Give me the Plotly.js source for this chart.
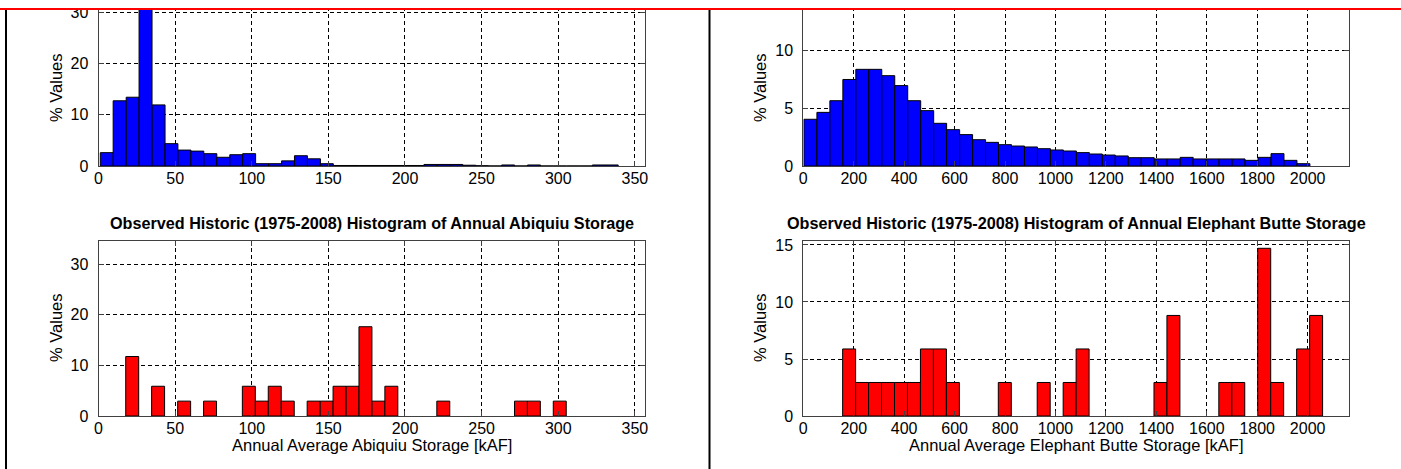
<!DOCTYPE html>
<html>
<head>
<meta charset="utf-8">
<script src="https://cdn.plot.ly/plotly-3.0.1.min.js"></script>
<style>
  html, body { margin: 0; padding: 0; background: #fff; }
  #chart { width: 1401px; height: 469px; }
</style>
</head>
<body>
<div id="chart"></div>
<script>
// ---- Simulated Abiquiu storage histogram (% of values per bin, kAF) ----
const abqSimBinWidth = 8.45;
const abqSimCenters = [5.4, 13.8, 22.3, 30.7, 39.2, 47.6, 56.1, 64.5, 73.0, 81.4,
  89.9, 98.3, 106.8, 115.2, 123.7, 132.1, 140.6, 149.0, 157.5, 165.9,
  174.4, 182.8, 191.3, 199.7, 208.2, 216.6, 225.1, 233.5, 242.0, 250.4,
  258.9, 267.3, 275.8, 284.2, 292.7, 301.1, 309.6, 318.0, 326.5, 334.9];
const abqSimPct = [2.6, 12.7, 13.4, 31.6, 11.9, 4.35, 3.1, 2.9, 2.4, 1.7,
  2.2, 2.4, 0.45, 0.45, 1.0, 2.0, 1.4, 0.45, 0.1, 0.1,
  0.1, 0.1, 0.1, 0.1, 0.1, 0.3, 0.3, 0.3, 0.15, 0.05,
  0, 0.2, 0, 0.2, 0, 0, 0, 0, 0.2, 0.2];

// ---- Simulated Elephant Butte storage histogram ----
const ebSimBinWidth = 51.45;
const ebSimCenters = [28.2, 79.7, 131.1, 182.6, 234.0, 285.5, 336.9, 388.4, 439.8, 491.3,
  542.7, 594.2, 645.6, 697.1, 748.5, 800.0, 851.4, 902.9, 954.3, 1005.8,
  1057.2, 1108.7, 1160.1, 1211.6, 1263.0, 1314.5, 1365.9, 1417.4, 1468.8, 1520.3,
  1571.7, 1623.2, 1674.6, 1726.1, 1777.5, 1829.0, 1880.4, 1931.9, 1983.3];
const ebSimPct = [4.05, 4.65, 5.66, 7.5, 8.38, 8.38, 7.83, 6.97, 5.66, 4.8,
  3.7, 3.15, 2.72, 2.28, 2.05, 1.85, 1.73, 1.65, 1.5, 1.39,
  1.3, 1.16, 1.04, 0.95, 0.87, 0.72, 0.72, 0.61, 0.61, 0.75,
  0.61, 0.61, 0.61, 0.61, 0.49, 0.75, 1.07, 0.49, 0.2];

// ---- Observed (1975-2008) Abiquiu storage histogram ----
const abqObsBinWidth = 8.455;
const abqObsCenters = [22.0, 38.9, 55.9, 72.8, 98.1, 106.6, 115.0, 123.5, 140.4, 148.9,
  157.3, 165.8, 174.2, 182.7, 191.1, 225.0, 275.7, 284.1, 301.0];
const abqObsPct = [11.76, 5.88, 2.94, 2.94, 5.88, 2.94, 5.88, 2.94, 2.94, 2.94,
  5.88, 5.88, 17.65, 2.94, 5.88, 2.94, 2.94, 2.94, 2.94];

// ---- Observed (1975-2008) Elephant Butte storage histogram ----
const ebObsBinWidth = 51.44;
const ebObsCenters = [181.7, 233.1, 284.6, 336.0, 387.5, 438.9, 490.3, 541.8, 593.2, 799.0,
  953.3, 1056.2, 1107.6, 1416.3, 1467.7, 1673.5, 1724.9, 1827.8, 1879.2, 1982.1, 2033.6];
const ebObsPct = [5.88, 2.94, 2.94, 2.94, 2.94, 2.94, 5.88, 5.88, 2.94, 2.94,
  2.94, 2.94, 5.88, 2.94, 8.82, 2.94, 2.94, 14.71, 2.94, 5.88, 8.82];

// ---- Tick labels ----
const abqTicks = [0, 50, 100, 150, 200, 250, 300, 350];
const ebTicks = [0, 200, 400, 600, 800, 1000, 1200, 1400, 1600, 1800, 2000];
const pctTicksAbq = [0, 10, 20, 30];
const pctTicksEbTop = [0, 5, 10];
const pctTicksEbBot = [0, 5, 10, 15];

const titleAbq = 'Observed Historic (1975-2008) Histogram of Annual Abiquiu Storage';
const titleEb = 'Observed Historic (1975-2008) Histogram of Annual Elephant Butte Storage';
const xLabelAbq = 'Annual Average Abiquiu Storage [kAF]';
const xLabelEb = 'Annual Average Elephant Butte Storage [kAF]';
const yLabel = '% Values';

// ---- Figure geometry (pixels) ----
const W = 1401, H = 469;
const px = v => v / W, py = v => (H - v) / H;
const FONT = 'Liberation Sans, Arial, sans-serif';
const TICK_SIZE = 16, LABEL_SIZE = 16.5, TITLE_SIZE = 16.2;

function bars(x, y, w, color, xa, ya) {
  return {
    type: 'bar', x: x, y: y, width: w, xaxis: xa, yaxis: ya,
    marker: { color: color, line: { color: '#000', width: 1 } },
    hoverinfo: 'x+y'
  };
}

const data = [
  bars(abqSimCenters, abqSimPct, abqSimBinWidth, '#0000ff', 'x', 'y'),
  bars(ebSimCenters, ebSimPct, ebSimBinWidth, '#0000ff', 'x2', 'y2'),
  bars(abqObsCenters, abqObsPct, abqObsBinWidth, '#ff0000', 'x3', 'y3'),
  bars(ebObsCenters, ebObsPct, ebObsBinWidth, '#ff0000', 'x4', 'y4')
];

function axis(extra) {
  return Object.assign({
    showline: true, linecolor: '#404040', linewidth: 1, mirror: 'ticks',
    ticks: 'inside', ticklen: 5, tickcolor: '#404040', tickwidth: 1,
    showgrid: true, gridcolor: '#000', gridwidth: 1, griddash: '4px,3px',
    zeroline: false, fixedrange: true,
    tickfont: { family: FONT, size: TICK_SIZE, color: '#000' },
    tickmode: 'array'
  }, extra);
}

const leftX = [px(98.5), px(644.5)];
const rightX = [px(803.3), px(1349)];
const topY = [py(166), 1];

function ann(text, x, y, size, angle) {
  return { text: text, x: px(x), y: py(y), xref: 'paper', yref: 'paper', textangle: angle || 0,
    xanchor: 'center', yanchor: 'middle', showarrow: false,
    font: { family: FONT, size: size, color: '#000' } };
}

const layout = {
  width: W, height: H,
  margin: { l: 0, r: 0, t: 0, b: 0, pad: 0 },
  paper_bgcolor: '#fff', plot_bgcolor: '#fff',
  showlegend: false, bargap: 0,
  xaxis: axis({ domain: leftX, range: [0, 356.3], anchor: 'y', tickvals: abqTicks, ticklabelstandoff: -2 }),
  yaxis: axis({ domain: topY, range: [0, 32.34], anchor: 'x', tickvals: pctTicksAbq, ticklabelstandoff: 6 }),
  xaxis2: axis({ domain: rightX, range: [0, 2164], anchor: 'y2', tickvals: ebTicks, ticklabelstandoff: -2 }),
  yaxis2: axis({ domain: topY, range: [0, 14.39], anchor: 'x2', tickvals: pctTicksEbTop, ticklabelstandoff: 6 }),
  xaxis3: axis({ domain: leftX, range: [0, 356.3], anchor: 'y3', tickvals: abqTicks, ticklabelstandoff: -2 }),
  yaxis3: axis({ domain: [py(416), py(240.5)], range: [0, 34.7], anchor: 'x3', tickvals: pctTicksAbq, ticklabelstandoff: 6 }),
  xaxis4: axis({ domain: rightX, range: [0, 2164], anchor: 'y4', tickvals: ebTicks, ticklabelstandoff: -2 }),
  yaxis4: axis({ domain: [py(416), py(241)], range: [0, 15.35], anchor: 'x4', tickvals: pctTicksEbBot, ticklabelstandoff: 6 }),
  annotations: [
    ann('<b>' + titleAbq + '</b>', 371.5, 223, TITLE_SIZE),
    ann('<b>' + titleEb + '</b>', 1076, 223, TITLE_SIZE),
    ann(xLabelAbq, 371.5, 445, LABEL_SIZE),
    ann(xLabelEb, 1076, 445, LABEL_SIZE),
    ann(yLabel, 56, 88, LABEL_SIZE, -90),
    ann(yLabel, 760, 88, LABEL_SIZE, -90),
    ann(yLabel, 56, 328, LABEL_SIZE, -90),
    ann(yLabel, 760, 328, LABEL_SIZE, -90)
  ],
  shapes: [
    // white band above the cropping line
    { type: 'rect', xref: 'paper', yref: 'paper', x0: 0, x1: 1, y0: py(8.5), y1: 1,
      fillcolor: '#fff', line: { width: 0 }, layer: 'above' },
    // red cropping line
    { type: 'line', xref: 'paper', yref: 'paper', x0: 0, x1: 1, y0: py(9), y1: py(9),
      line: { color: '#ff0000', width: 2 }, layer: 'above' },
    // panel borders
    { type: 'line', xref: 'paper', yref: 'paper', x0: px(6), x1: px(6), y0: 0, y1: py(10),
      line: { color: '#000', width: 2 }, layer: 'above' },
    { type: 'line', xref: 'paper', yref: 'paper', x0: px(709.5), x1: px(709.5), y0: 0, y1: py(10),
      line: { color: '#000', width: 2 }, layer: 'above' }
  ]
};

Plotly.newPlot('chart', data, layout, { staticPlot: true, displayModeBar: false });
</script>
</body>
</html>
